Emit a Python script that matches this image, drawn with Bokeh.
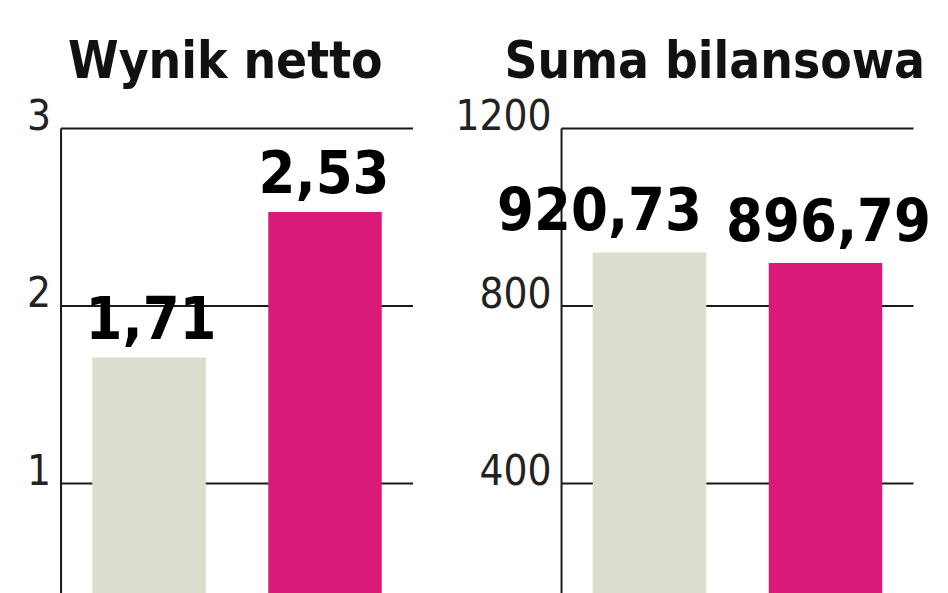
from bokeh.plotting import figure
from bokeh.layouts import row
from bokeh.models import ColumnDataSource, Range1d
from bokeh.core.properties import value
from bokeh.embed import file_html
from bokeh.resources import INLINE

# ---- data ----
periods = ["poprzedni", "bieżący"]
wynik_netto = [1.71, 2.53]
suma_bilansowa = [920.73, 896.79]
netto_ticks = [1, 2, 3]
netto_tick_labels = ["1", "2", "3"]
suma_ticks = [400, 800, 1200]
suma_tick_labels = ["400", "800", "1200"]
titles = ["Wynik netto", "Suma bilansowa"]
bar_colors = ["#DCDDCE", "#D91A78"]

FONT = "'DejaVu Sans Condensed', 'DejaVu Sans', sans-serif"
H = 593


def fmt(v):
    return f"{v:.2f}".replace(".", ",")


def panel(title, vals, ticks, tick_labels, width, x_range, y_range, title_dx, label_dy, label_dx):
    p = figure(width=width, height=H, output_backend="svg", toolbar_location=None,
               x_range=Range1d(*x_range), y_range=Range1d(*y_range),
               min_border=0, min_border_left=0, min_border_right=0,
               min_border_top=0, min_border_bottom=0)
    p.axis.visible = False
    p.grid.visible = False
    p.outline_line_color = None
    p.background_fill_color = "white"
    p.border_fill_color = "white"

    axis_x, grid_end = -0.5, 1.5
    top = ticks[-1]
    p.segment(x0=[axis_x] * len(ticks), x1=[grid_end] * len(ticks), y0=ticks, y1=ticks,
              line_color="#1a1a1a", line_width=2)
    idx = list(range(len(vals)))
    src = ColumnDataSource(dict(x=idx, top=vals, color=bar_colors[:len(vals)],
                                label=[fmt(v) for v in vals]))
    p.vbar(x="x", top="top", bottom=y_range[0], width=0.645, fill_color="color",
           line_color=None, source=src)
    p.segment(x0=[axis_x], x1=[axis_x], y0=[y_range[0]], y1=[top],
              line_color="#1a1a1a", line_width=2)
    p.text(x=[axis_x] * len(ticks), y=ticks, text=tick_labels, x_offset=-10, y_offset=-14,
           text_align="right", text_baseline="middle", text_font=value(FONT),
           text_font_size="42px", text_color="#222222")
    for i in idx:
        p.text(x=[i], y=[vals[i]], text=[fmt(vals[i])], x_offset=label_dx[i], y_offset=-label_dy,
               text_align="center", text_baseline="alphabetic", text_font=value(FONT),
               text_font_style="bold", text_font_size="59px", text_color="#000000")
    p.text(x=[axis_x], y=[y_range[1]], text=[title], x_offset=title_dx, y_offset=60,
           text_align="left", text_baseline="alphabetic", text_font=value(FONT),
           text_font_style="bold", text_font_size="51px", text_color="#111111")
    return p


p1 = panel(titles[0], wynik_netto, netto_ticks, netto_tick_labels, 450,
           (-0.844, 1.713), (0.380, 3.721), 7, 40, [2, -1])
p2 = panel(titles[1], suma_bilansowa, suma_ticks, suma_tick_labels, 498,
           (-1.131, 1.699), (152.2, 1488.5), -57, 44, [-50, 3])

layout = row(p1, p2)
open("out.html", "w").write(file_html(layout, INLINE))
